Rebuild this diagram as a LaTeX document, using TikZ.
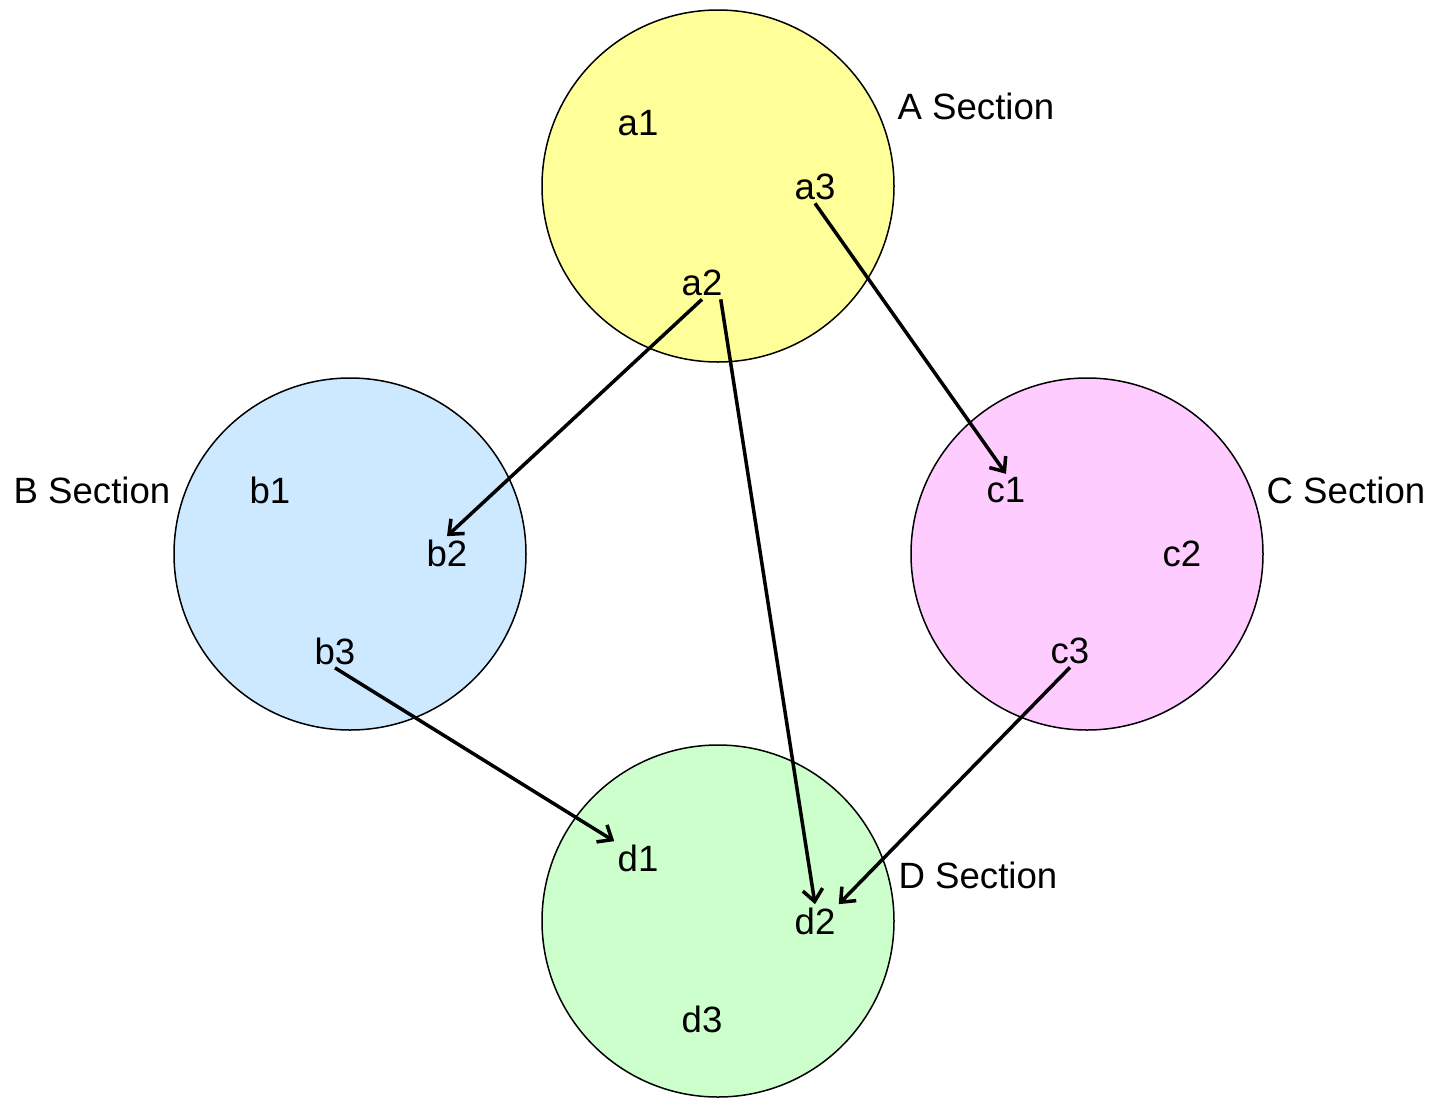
\documentclass[tikz,border=0pt]{standalone}
\usepackage{fontspec}
\setmainfont{Liberation Sans}
\usetikzlibrary{arrows.meta}
\begin{document}
\begin{tikzpicture}[x=0.5pt,y=-0.5pt,
  sec/.style={circle,draw=black,line width=0.75pt,minimum size=176pt,inner sep=0pt},
  lbl/.style={font=\fontsize{18.3pt}{21pt}\selectfont,inner sep=1.5pt},
  conn/.style={line width=1.75pt,-{Straight Barb[length=6pt,width=10pt,line width=1.75pt]}}]
\definecolor{ayel}{HTML}{FFFF99}
\definecolor{bblu}{HTML}{CCE9FF}
\definecolor{cpnk}{HTML}{FFCCFF}
\definecolor{dgrn}{HTML}{CCFFCC}
\useasboundingbox (0,0) rectangle (1435,1098);
\node[sec,fill=ayel] (A) at (718,186) {};
\node[sec,fill=bblu] (B) at (350,554) {};
\node[sec,fill=cpnk] (C) at (1087,554) {};
\node[sec,fill=dgrn] (D) at (718,921) {};
\node[lbl] (Alab) at (976,106) {A Section};
\node[lbl] (Blab) at (92,490) {B Section};
\node[lbl] (Clab) at (1346,490) {C Section};
\node[lbl] (Dlab) at (978,875) {D Section};
\node[lbl] (a1) at (638,123) {a1};
\node[lbl] (a3) at (815,187) {a3};
\node[lbl] (a2) at (702,283) {a2};
\node[lbl] (b1) at (270,490) {b1};
\node[lbl] (b2) at (447,553) {b2};
\node[lbl] (b3) at (335,651) {b3};
\node[lbl] (c1) at (1006,490) {c1};
\node[lbl] (c2) at (1182,554) {c2};
\node[lbl] (c3) at (1070,651) {c3};
\node[lbl] (d1) at (638,858) {d1};
\node[lbl] (d2) at (815,921) {d2};
\node[lbl] (d3) at (702,1019) {d3};
\draw[conn] (a3.south) -- (c1.north);
\draw[conn] (a2.south) -- (b2.north);
\draw[conn] ([xshift=-2.5pt]a2.south east) -- (d2.north);
\draw[conn] (b3.south) -- (d1.north west);
\draw[conn] (c3.south) -- (d2.north east);
\end{tikzpicture}
\end{document}
